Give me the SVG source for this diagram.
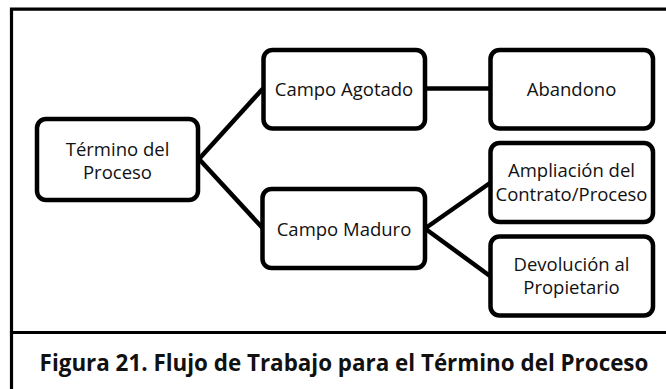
<svg xmlns="http://www.w3.org/2000/svg" width="666" height="389" viewBox="0 0 666 389">
<style>
.frame{fill:none;stroke:#000;stroke-width:3.2}
.box{fill:#fff;stroke:#000;stroke-width:4.5}
.conn{fill:none;stroke:#000;stroke-width:4.5}
.lbl{font-family:"Open Sans","Noto Sans",sans-serif;font-size:18.5px;fill:#111;text-anchor:middle}
.cap{font-family:"Open Sans","Noto Sans",sans-serif;font-size:22.4px;font-weight:bold;fill:#111;text-anchor:middle}
</style>
<rect width="666" height="389" fill="#fff"/>
<g id="frame">
<path class="frame" d="M11.5 389 V9.2 H666"/>
<line class="frame" x1="11.5" y1="332.5" x2="666" y2="332.5"/>
</g>
<g id="connectors">
<line class="conn" x1="199" y1="159" x2="263" y2="88.5"/>
<line class="conn" x1="199" y1="159" x2="263" y2="228.5"/>
<line class="conn" x1="425" y1="88.5" x2="490" y2="88.5"/>
<line class="conn" x1="425" y1="228.5" x2="490" y2="183"/>
<line class="conn" x1="425" y1="228.5" x2="490" y2="276"/>
</g>
<g id="n-termino">
<rect class="box" x="37" y="119" width="161" height="81" rx="9"/>
<text class="lbl" x="117.5" y="156"><tspan x="117.5">Término del</tspan><tspan x="117.5" dy="23">Proceso</tspan></text>
</g>
<g id="n-agotado">
<rect class="box" x="263.5" y="50" width="161.5" height="78.5" rx="9"/>
<text class="lbl" x="344" y="96">Campo Agotado</text>
</g>
<g id="n-abandono">
<rect class="box" x="490.5" y="50" width="162.5" height="78.5" rx="9"/>
<text class="lbl" x="571.5" y="96">Abandono</text>
</g>
<g id="n-maduro">
<rect class="box" x="262.5" y="189" width="162.5" height="79" rx="9"/>
<text class="lbl" x="344" y="236">Campo Maduro</text>
</g>
<g id="n-ampliacion">
<rect class="box" x="490.5" y="143" width="162.5" height="79" rx="9"/>
<text class="lbl" x="571.5" y="177"><tspan x="571.5">Ampliación del</tspan><tspan x="571.5" dy="24" textLength="152" lengthAdjust="spacingAndGlyphs">Contrato/Proceso</tspan></text>
</g>
<g id="n-devolucion">
<rect class="box" x="490.5" y="236.5" width="162.5" height="79" rx="9"/>
<text class="lbl" x="571.5" y="271"><tspan x="571.5">Devolución al</tspan><tspan x="571.5" dy="23">Propietario</tspan></text>
</g>
<g id="caption">
<text class="cap" x="344" y="371">Figura 21. Flujo de Trabajo para el Término del Proceso</text>
</g>
</svg>
